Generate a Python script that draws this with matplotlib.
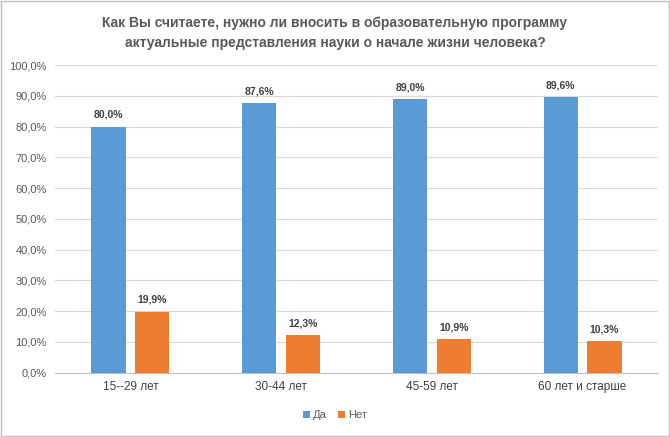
import matplotlib
matplotlib.use("Agg")
import matplotlib.pyplot as plt
import numpy as np

categories = ["15--29 лет", "30-44 лет", "45-59 лет", "60 лет и старше"]
da = [80.0, 87.6, 89.0, 89.6]
net = [19.9, 12.3, 10.9, 10.3]
series_names = ["Да", "Нет"]
yticks = list(range(0, 101, 10))

plt.rcParams["font.family"] = "Liberation Sans"
fig = plt.figure(figsize=(6.70, 4.37), dpi=100)
ax = fig.add_axes([0.082, 0.147, 0.9, 0.704])
x = np.arange(len(categories))
w = 0.227
off = 0.145
c1, c2 = "#5b9bd5", "#ed7d31"
b1 = ax.bar(x - off, da, w, color=c1, label=series_names[0], zorder=3)
b2 = ax.bar(x + off, net, w, color=c2, label=series_names[1], zorder=3)
for bars, vals in ((b1, da), (b2, net)):
    for b, v in zip(bars, vals):
        ax.text(b.get_x() + b.get_width()/2, v + 2.2, f"{v:.1f}".replace(".", ",") + "%",
                ha="center", va="bottom", fontsize=7.5, fontweight="bold", color="#404040")
ax.set_xlim(-0.5, len(categories) - 0.5)
ax.set_ylim(0, 100)
ax.set_yticks(yticks)
ax.set_yticklabels([f"{t},0%" for t in yticks], fontsize=8, color="#595959")
ax.set_xticks(x)
ax.set_xticklabels(categories, fontsize=8.5, color="#404040")
ax.tick_params(length=0, pad=6)
ax.grid(axis="y", color="#d9d9d9", linewidth=0.8, zorder=0)
for s in ["top", "right", "left"]:
    ax.spines[s].set_visible(False)
ax.spines["bottom"].set_color("#bfbfbf")
fig.text(0.5, 0.925, "Как Вы считаете, нужно ли вносить в образовательную программу\nактуальные представления науки о начале жизни человека?",
         ha="center", va="center", fontsize=10, fontweight="bold", color="#595959", linespacing=1.5)
fig.legend(loc="center", bbox_to_anchor=(0.5, 0.05), ncol=2, frameon=False, fontsize=8,
           handlelength=0.6, handleheight=0.6, columnspacing=1.0, handletextpad=0.3,
           labelcolor="#595959")
fig.patches.append(plt.Rectangle((0.001, 0.002), 0.997, 0.995, transform=fig.transFigure,
                                 fill=False, edgecolor="#bfbfbf", linewidth=1))
fig.savefig("out.png", dpi=100)
